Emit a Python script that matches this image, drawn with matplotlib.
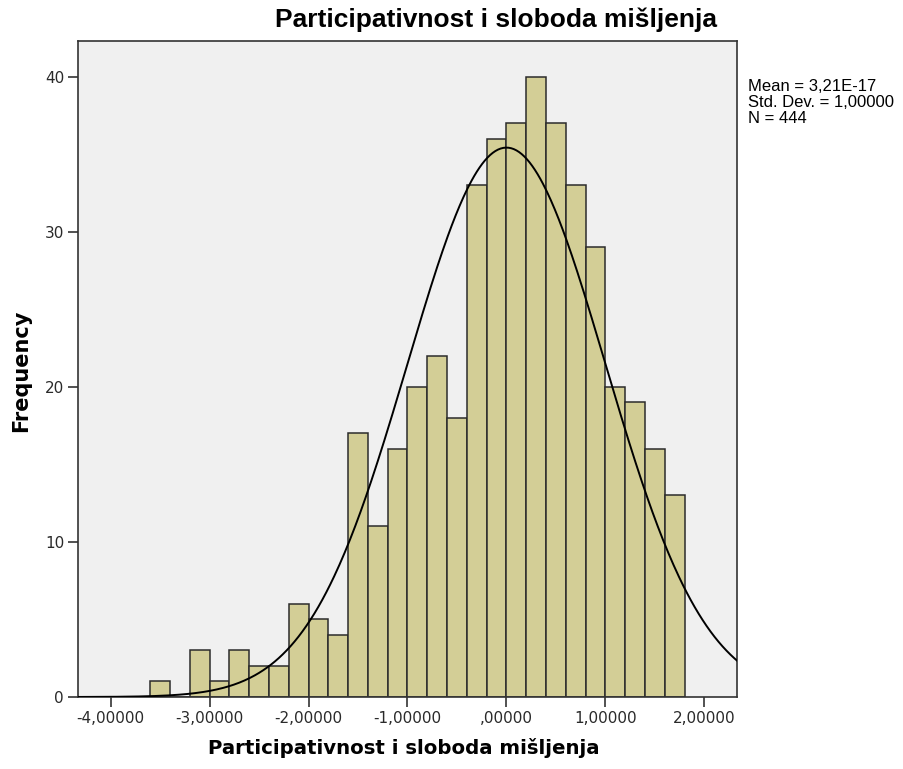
import numpy as np
import matplotlib
matplotlib.use("Agg")
import matplotlib.pyplot as plt
from matplotlib.ticker import FuncFormatter

# Histogram of standardized scores (bin width 0.2)
bin_left_edges = [-3.6, -3.4, -3.2, -3.0, -2.8, -2.6, -2.4, -2.2, -2.0, -1.8,
                  -1.6, -1.4, -1.2, -1.0, -0.8, -0.6, -0.4, -0.2, 0.0, 0.2,
                  0.4, 0.6, 0.8, 1.0, 1.2, 1.4, 1.6]
frequencies = [1, 0, 3, 1, 3, 2, 2, 6, 5, 4,
               17, 11, 16, 20, 22, 18, 33, 36, 37, 40,
               37, 33, 29, 20, 19, 16, 13]
bin_width = 0.2
mean = 3.21e-17
std_dev = 1.0
n_obs = 444

x_ticks = [-4, -3, -2, -1, 0, 1, 2]
y_ticks = [0, 10, 20, 30, 40]

title = "Participativnost i sloboda mišljenja"
x_label = "Participativnost i sloboda mišljenja"
y_label = "Frequency"

fig = plt.figure(figsize=(9.04, 7.69), dpi=100)
ax = fig.add_axes([78 / 904, 1 - 697 / 769, (737 - 78) / 904, (697 - 41) / 769])
ax.set_facecolor("#f0f0f0")

ax.bar(bin_left_edges, frequencies, width=bin_width, align="edge",
       color="#d3ce96", edgecolor="#2b2b2b", linewidth=1.1, zorder=2)

# Normal curve scaled to counts
xmin, xmax = -4.33, 2.33
xs = np.linspace(xmin, xmax, 500)
pdf = np.exp(-0.5 * ((xs - mean) / std_dev) ** 2) / (std_dev * np.sqrt(2 * np.pi))
ax.plot(xs, n_obs * bin_width * pdf, color="black", linewidth=1.4, zorder=3)

ax.set_xlim(xmin, xmax)
ax.set_ylim(0, 42.3)
ax.set_xticks(x_ticks)
ax.set_yticks(y_ticks)


def fmt_x(v, pos):
    s = f"{abs(v):.5f}".replace(".", ",")
    if s.startswith("0,"):
        s = s[1:]
    if v < 0:
        s = "-" + s
    return s


ax.xaxis.set_major_formatter(FuncFormatter(fmt_x))
ax.tick_params(axis="both", direction="out", length=7, width=1.2, color="#333333",
               labelsize=11, labelcolor="#2a2a2a", pad=3)
for lab in ax.get_xticklabels() + ax.get_yticklabels():
    lab.set_family("DejaVu Sans")
for sp in ax.spines.values():
    sp.set_color("#333333")
    sp.set_linewidth(1.2)

fig.text(496 / 904, 1 - 20 / 769, title, ha="center", va="center",
         fontsize=19, fontweight="bold", family="Liberation Sans")
fig.text(404 / 904, 1 - 748 / 769, x_label, ha="center", va="center",
         fontsize=14.2, fontweight="bold", family="DejaVu Sans")
fig.text(21 / 904, 1 - 371 / 769, y_label, ha="center", va="center", rotation=90,
         fontsize=15, fontweight="bold", family="DejaVu Sans")

stats = f"Mean = 3,21E-17\nStd. Dev. = 1,00000\nN = {n_obs}"
fig.text(748 / 904, 1 - 79 / 769, stats, ha="left", va="top",
         fontsize=12, family="Liberation Sans", linespacing=1.1)

fig.savefig("out.png", dpi=100, facecolor="white")
